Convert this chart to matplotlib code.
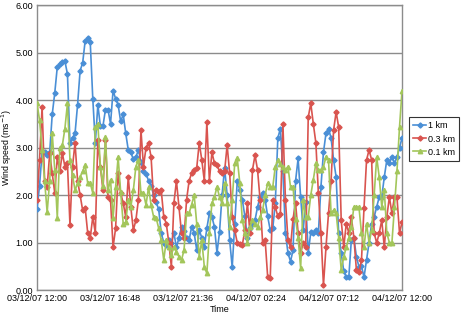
import numpy as np
import matplotlib
matplotlib.use("Agg")
from matplotlib import pyplot as plt

plt.rcParams['font.family'] = ['Liberation Sans', 'DejaVu Sans']

# readings every 10 minutes from 03/12/07 12:00 to 04/12/07 12:00
km1 = [1.7, 2.2, 2.9, 2.9, 2.85, 2.9, 3.7, 4.15, 4.7, 4.75, 4.8, 4.82, 4.55, 3.1, 3.2, 3.3,
       3.9, 4.62, 4.78, 5.25, 5.3, 5.22, 4.03, 3.1, 3.9, 3.45, 3.45, 3.8, 3.8, 3.5, 4.2, 4.03,
       3.9, 3.55, 3.7, 3.3, 2.95, 2.9, 2.75, 2.8, 2.95, 2.7, 2.5, 2.45, 2.3, 2.2, 2.0, 1.85,
       1.7, 1.2, 1.0, 0.95, 1.05, 1.0, 1.2, 0.9, 1.1, 1.33, 1.25, 1.1, 1.05, 1.33, 1.2, 0.84,
       1.26, 1.1, 0.91, 1.3, 1.62, 1.54, 1.33, 0.78, 1.22, 2.0, 2.57, 2.0, 1.05, 0.48, 1.4, 2.3,
       2.1, 1.9, 1.55, 1.1, 1.3, 1.4, 1.47, 1.75, 1.96, 2.04, 1.9, 1.55, 1.26, 1.3, 1.83, 3.2,
       3.4, 2.5, 1.2, 0.78, 0.6, 0.84, 2.3, 2.77, 1.96, 1.26, 1.85, 0.78, 1.22, 1.2, 1.26, 1.2,
       2.17, 2.9, 3.3, 3.4, 3.2, 2.74, 2.38, 1.2, 0.78, 0.4, 0.27, 0.27, 1.05, 1.1, 0.7, 0.49,
       0.5, 0.27, 0.63, 1.0, 1.4, 1.54, 1.75, 1.96, 1.96, 2.38, 2.74, 2.67, 2.8, 2.67, 2.8, 3.0,
       3.2]
km03 = [1.9, 2.74, 3.85, 2.3, 2.17, 2.88, 2.46, 2.04, 2.8, 2.5, 2.88, 2.6, 2.67, 1.37, 2.6, 3.1,
        2.3, 2.0, 1.68, 1.73, 1.2, 1.1, 1.54, 1.2, 3.16, 2.6, 2.1, 3.16, 1.96, 1.9, 0.9, 1.3,
        2.46, 2.04, 1.83, 1.54, 2.38, 1.75, 1.26, 1.47, 1.9, 3.37, 2.6, 3.0, 3.1, 2.8, 1.9, 2.1,
        2.06, 2.1, 1.54, 1.4, 0.99, 0.49, 1.83, 2.3, 1.75, 1.2, 1.1, 1.9, 2.3, 2.46, 2.53, 2.57,
        3.1, 2.74, 2.3, 3.53, 2.3, 2.9, 2.67, 2.63, 2.5, 2.46, 2.5, 3.05, 2.46, 1.54, 1.26, 0.99,
        0.97, 0.95, 1.26, 1.83, 1.2, 2.53, 2.84, 2.53, 1.9, 0.99, 1.05, 0.27, 0.25, 1.9, 1.75, 1.55,
        1.6, 3.5, 1.9, 1.05, 0.9, 1.5, 1.83, 1.2, 0.78, 0.99, 0.9, 3.64, 3.93, 3.5, 3.1, 2.04,
        1.2, 0.1, 0.9, 1.62, 2.3, 3.37, 3.75, 3.43, 1.47, 0.9, 1.4, 1.2, 1.54, 1.1, 0.42, 0.38,
        0.63, 1.73, 2.74, 2.95, 2.74, 1.2, 0.99, 1.2, 1.47, 0.9, 1.54, 1.96, 1.62, 1.96, 1.96, 1.2,
        1.43]
km01 = [3.93, 3.58, 2.95, 2.3, 1.64, 2.3, 3.3, 2.53, 1.52, 3.0, 3.05, 3.4, 3.93, 2.74, 2.42, 2.1,
        2.25, 2.38, 2.5, 2.63, 2.25, 2.25, 2.04, 3.43, 3.5, 2.6, 2.2, 3.22, 2.1, 2.32, 1.52, 2.17,
        2.8, 2.06, 1.4, 1.43, 1.9, 1.75, 2.1, 2.6, 2.74, 2.04, 2.04, 1.79, 2.17, 1.79, 1.54, 1.52,
        1.3, 1.05, 0.63, 1.05, 0.9, 0.74, 0.91, 0.8, 0.7, 0.63, 0.84, 1.62, 1.62, 1.8, 2.0, 1.4,
        0.7, 1.05, 0.49, 0.35, 1.2, 1.83, 1.96, 2.17, 1.96, 1.83, 2.25, 1.83, 1.33, 1.9, 2.67, 2.77,
        2.25, 1.47, 1.2, 0.99, 1.33, 1.47, 1.4, 1.33, 1.54, 1.68, 2.0, 2.25, 2.17, 2.17, 2.6, 2.74,
        2.65, 2.6, 2.53, 2.6, 2.17, 2.17, 1.5, 1.1, 0.46, 1.9, 1.54, 1.54, 2.0, 2.32, 2.67, 2.53,
        2.53, 2.6, 2.8, 2.74, 1.62, 1.68, 1.62, 1.1, 0.42, 0.7, 0.9, 1.1, 1.33, 1.75, 1.75, 1.75,
        1.2, 0.9, 1.4, 0.99, 1.26, 2.0, 2.8, 2.38, 1.75, 2.1, 1.2, 1.0, 0.99, 1.75, 2.5, 3.43,
        4.2]

tick_labels = ["03/12/07 12:00", "03/12/07 16:48", "03/12/07 21:36",
               "04/12/07 02:24", "04/12/07 07:12", "04/12/07 12:00"]

hours = np.arange(len(km1)) / 6.0

fig = plt.figure(figsize=(4.65, 3.19), dpi=100)
ax = fig.add_axes([0.0796, 0.0909, 0.785, 0.893])

ax.plot(hours, km1, color='#4a8fd6', marker='D', markersize=2.6, lw=1.2, label='1 km', zorder=3)
ax.plot(hours, km03, color='#d9544f', marker='D', markersize=2.6, lw=1.2, label='0.3 km', zorder=4)
ax.plot(hours, km01, color='#a3c65b', marker='^', markersize=3.2, lw=1.2, label='0.1 km', zorder=5)

ax.set_xlim(0, 24)
ax.set_ylim(0, 6)
ax.set_xticks(np.linspace(0, 24, 6))
ax.set_xticklabels(tick_labels)
ax.set_yticks(np.arange(0, 7, 1))
ax.set_yticklabels(["%.2f" % v for v in range(7)])
ax.tick_params(labelsize=6.5, length=0, pad=3)
ax.yaxis.grid(True, color='#8c8c8c', lw=1.0)
ax.set_axisbelow(True)
for s in ax.spines.values():
    s.set_color('#8c8c8c')
    s.set_linewidth(1.0)

ax.set_xlabel("Time", fontsize=6.5, labelpad=1)
ax.set_ylabel("Wind speed (ms$^{-1}$)", fontsize=6.3)
ax.yaxis.set_label_coords(-0.062, 0.5)

leg = ax.legend(loc='center left', bbox_to_anchor=(1.02, 0.53), fontsize=6.5,
                frameon=True, fancybox=False, handlelength=1.4, borderpad=0.45,
                labelspacing=0.45, handletextpad=0.2, borderaxespad=0)
leg.get_frame().set_edgecolor('black')
leg.get_frame().set_linewidth(0.8)

fig.savefig("out.png", dpi=100)
